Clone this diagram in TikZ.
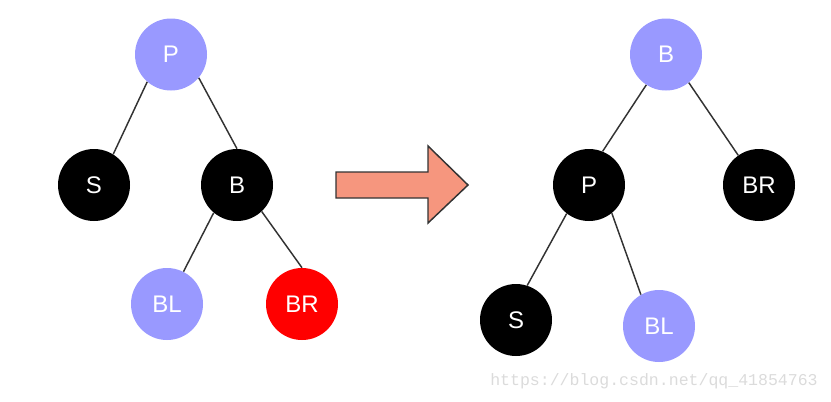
\documentclass[tikz,border=0pt]{standalone}
\usepackage{fontspec}
\setmainfont{Liberation Sans}
\newfontfamily\wmfont{Liberation Mono}
\definecolor{lilac}{RGB}{153,153,255}
\definecolor{salmon}{RGB}{246,150,126}
\definecolor{edgegray}{RGB}{51,51,51}

\begin{document}
\begin{tikzpicture}[x=0.75pt,y=-0.75pt,
        font=\fontsize{18}{20}\selectfont,
        every node/.style={circle,inner sep=0pt,minimum size=54pt,text=white},
        blk/.style={fill=black},
        lil/.style={fill=lilac},
        red/.style={fill=red},
        edge/.style={draw=edgegray,line width=1.1pt}]
    \useasboundingbox (0,0) rectangle (831,401);

    % before
    \node[lil] (p1)  at (171,54.5) {P};
    \node[blk] (s1)  at (94,185)   {S};
    \node[blk] (b1)  at (237,185)  {B};
    \node[lil] (bl1) at (167,304)  {BL};
    \node[red] (br1) at (302,304)  {BR};
    \draw[edge] (p1.229) -- (s1.58);
    \draw[edge] (p1.320) -- (b1.90);
    \draw[edge] (b1.230) -- (bl1.63);
    \draw[edge] (b1.313) -- (br1.90);

    % arrow
    \draw[fill=salmon,draw=edgegray,line width=1.1pt,line join=miter]
        (336,172) -- (428,172) -- (428,146) -- (468,185) -- (428,223) -- (428,198) -- (336,198) -- cycle;

    % after
    \node[lil] (b2)  at (666,54.5) {B};
    \node[blk] (p2)  at (589,185)  {P};
    \node[blk] (br2) at (759,185)  {BR};
    \node[blk] (s2)  at (516,320)  {S};
    \node[lil] (bl2) at (659,326)  {BL};
    \draw[edge] (b2.237) -- (p2.68);
    \draw[edge] (b2.309) -- (br2.125);
    \draw[edge] (p2.232) -- (s2.72);
    \draw[edge] (p2.309) -- (bl2.120);

    \node[rectangle,minimum size=0pt,anchor=west,text=black!14,font=\wmfont\fontsize{12.4}{14}\selectfont] (wm) at (490,381) {https://blog.csdn.net/qq\_41854763};
\end{tikzpicture}
\end{document}
